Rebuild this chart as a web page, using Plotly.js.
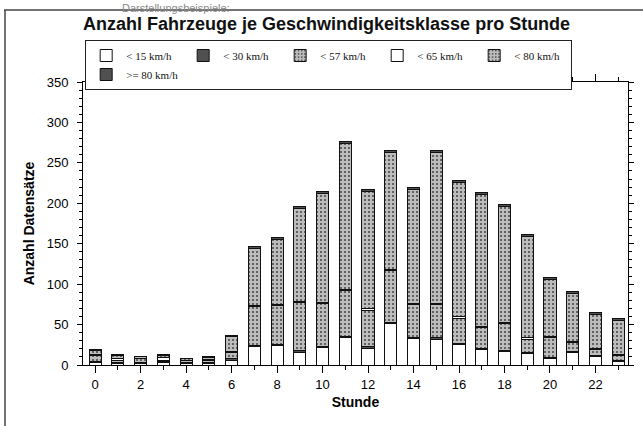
<!DOCTYPE html>
<html>
<head>
<meta charset="utf-8">
<script src="https://cdn.plot.ly/plotly-3.0.1.min.js"></script>
<style>html,body{margin:0;padding:0;background:#fff;}#chart{width:643px;height:426px;}</style>
</head>
<body>
<div id="chart"></div>
<script>
// Data (hour of day, vehicles per speed class)
const hours = [0,1,2,3,4,5,6,7,8,9,10,11,12,13,14,15,16,17,18,19,20,21,22,23];
const seriesNames = ["< 15 km/h", "< 30 km/h", "< 57 km/h", "< 65 km/h", "< 80 km/h", ">= 80 km/h"];
const v15   = [3, 2, 2, 3, 2, 2, 6, 22.5, 24, 16, 22, 34, 21, 51, 33, 32, 25, 19, 16.5, 14, 8, 15, 10, 4];
const v30   = [1, 1, 1, 1, 1, 1, 1.5, 1.5, 1.5, 1.5, 1.5, 1.5, 1.5, 1.5, 1.5, 1.5, 1.5, 1.5, 1.5, 1.5, 1.5, 1.5, 1.5, 1.5];
const v57   = [8, 3, 5, 2, 2, 3, 7.5, 48, 47.5, 59.5, 52.5, 56.5, 45.5, 64.5, 40.5, 41.5, 31.5, 25.5, 33, 16.5, 24.5, 11.5, 7.5, 6.5];
const v65   = [1, 2, 0.5, 3, 0.5, 1, 2, 1.5, 1.5, 1.5, 1.5, 1.5, 1.5, 1.5, 1.5, 1.5, 1.5, 1.5, 1.5, 1.5, 1.5, 1.5, 1.5, 1.5];
const v80   = [5.5, 4, 1.5, 3, 2, 2.5, 18.5, 70, 81, 115, 135, 181, 145, 144, 141, 186, 166, 163, 144, 126, 70, 59, 42, 41];
const v80p  = [1, 1, 1, 1, 1, 1, 1.5, 2.5, 2.5, 2.5, 2.5, 2.5, 2.5, 2.5, 2.5, 2.5, 2.5, 2.5, 2.5, 2.5, 2.5, 2.5, 2.5, 2.5];
const xTickVals = [0,2,4,6,8,10,12,14,16,18,20,22];
const yTickVals = [0,50,100,150,200,250,300,350];

const values = [v15, v30, v57, v65, v80, v80p];
const grayPattern = {shape: ".", fgcolor: "#4a4a4a", bgcolor: "#bdbdbd", size: 4, solidity: 0.22};
const styles = [
  {color: "#ffffff"},
  {color: "#505050"},
  {color: "#b5b5b5", pattern: grayPattern},
  {color: "#ffffff"},
  {color: "#b5b5b5", pattern: grayPattern},
  {color: "#505050"}
];

const traces = values.map((v, i) => ({
  type: "bar",
  name: seriesNames[i],
  x: hours,
  y: v,
  width: 0.53,
  marker: Object.assign({line: {color: "#111", width: 1}}, styles[i]),
  hoverinfo: "x+y+name"
}));

const layout = {
  width: 643, height: 426,
  margin: {l: 83, r: 15, t: 82, b: 61},
  paper_bgcolor: "#fff", plot_bgcolor: "#fff",
  barmode: "stack",
  bargap: 0,
  font: {family: "Liberation Sans, Arial, sans-serif", color: "#000", size: 12},
  title: {
    text: "Anzahl Fahrzeuge je Geschwindigkeitsklasse pro Stunde",
    font: {family: "Liberation Sans, Arial, sans-serif", size: 18, weight: "bold", color: "#111"},
    xref: "paper", x: 0, xanchor: "left",
    yref: "container", y: 1 - 24/426, yanchor: "middle"
  },
  showlegend: true,
  legend: {
    orientation: "h", traceorder: "normal",
    x: 0.004, xanchor: "left", y: (365 - 40) / 283, yanchor: "top",
    bordercolor: "#222", borderwidth: 1, bgcolor: "#fff",
    font: {family: "Liberation Serif, Times New Roman, serif", size: 11, color: "#111"},
    entrywidth: 52, entrywidthmode: "pixels",
    itemwidth: 30
  },
  xaxis: {
    range: [-0.53, 23.43],
    tickmode: "array", tickvals: xTickVals,
    ticks: "outside", ticklen: 7, tickcolor: "#000", tickwidth: 1,
    minor: {dtick: 1, tick0: 0, ticks: "outside", ticklen: 4, tickcolor: "#000"},
    showline: true, linecolor: "#000", linewidth: 1, mirror: "ticks",
    showgrid: false, zeroline: false,
    tickfont: {size: 13, color: "#000"},
    title: {text: "Stunde", font: {size: 14, weight: "bold", color: "#000"}, standoff: 6}
  },
  yaxis: {
    range: [0, 350],
    tickmode: "array", tickvals: yTickVals,
    ticks: "outside", ticklen: 5, tickcolor: "#000", tickwidth: 1,
    ticklabelstandoff: 6,
    minor: {dtick: 10, tick0: 0, ticks: "outside", ticklen: 3, tickcolor: "#000"},
    showline: true, linecolor: "#000", linewidth: 1, mirror: "ticks",
    showgrid: false, zeroline: false,
    tickfont: {size: 13, color: "#000"},
    title: {text: "Anzahl Datensätze", font: {size: 14, weight: "bold", color: "#000"}, standoff: 8}
  },
  annotations: [{
    text: "Darstellungsbeispiele:",
    xref: "paper", yref: "paper",
    x: (232 - 83) / 545, xanchor: "right",
    y: (365 - 0) / 283, yanchor: "top",
    showarrow: false,
    font: {family: "Liberation Sans, Arial, sans-serif", size: 11, color: "#8a8a8a"}
  }],
  shapes: [
    {type: "line", xref: "paper", yref: "paper", x0: (4 - 83) / 545, x1: (643 - 83) / 545, y0: (365 - 10) / 283, y1: (365 - 10) / 283, line: {color: "#444", width: 1.5}},
    {type: "line", xref: "paper", yref: "paper", x0: (5 - 83) / 545, x1: (5 - 83) / 545, y0: (365 - 10) / 283, y1: (365 - 426) / 283, line: {color: "#444", width: 1.5}}
  ]
};

Plotly.newPlot("chart", traces, layout, {displayModeBar: false, staticPlot: true});
</script>
</body>
</html>
